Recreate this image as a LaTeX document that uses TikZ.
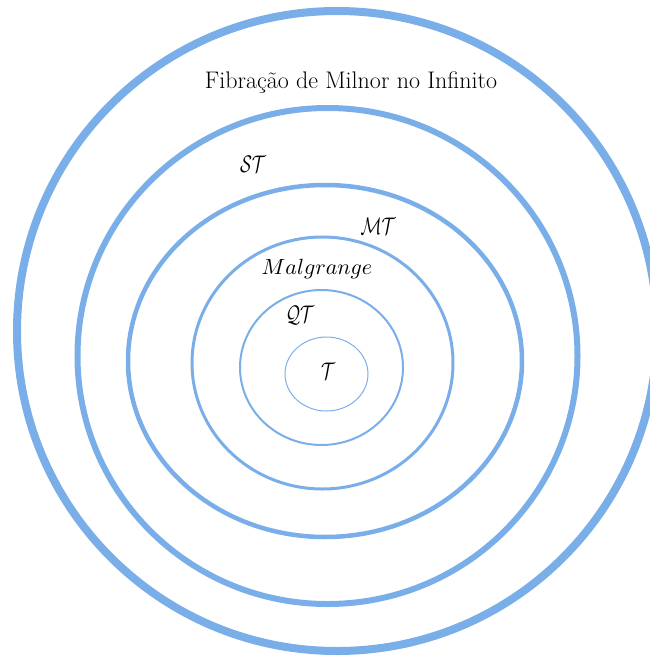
\documentclass[tikz,border=0pt]{standalone}
\usepackage{amsmath}
\usepackage{graphicx}
\definecolor{ringblue}{RGB}{122,174,232}
\tikzset{ring/.style={draw=ringblue}, lbl/.style={inner sep=0pt}}
\newcommand{\calbox}[1]{\scalebox{1.75}[2.4]{$\mathcal{#1}$}}
\begin{document}
\begin{tikzpicture}[x=1pt,y=-1pt]
\useasboundingbox (0,0) rectangle (650,657);
\draw[ring,line width=8] (337,331) ellipse [x radius=320, y radius=320];
\draw[ring,line width=6] (327.5,356) ellipse [x radius=250, y radius=248];
\draw[ring,line width=4.5] (325,361) ellipse [x radius=197, y radius=176];
\draw[ring,line width=3] (322.5,363) ellipse [x radius=130.5, y radius=126];
\draw[ring,line width=2] (321.5,367.5) ellipse [x radius=81.5, y radius=77.5];
\draw[ring,line width=1] (326.5,374) ellipse [x radius=41.5, y radius=37];
\node[lbl,font=\fontsize{24}{28}\selectfont] (fib) at (351,82) {Fibração de Milnor no Infinito};
\node[lbl] (st) at (253,164) {\calbox{ST}};
\node[lbl] (mt) at (378,226) {\calbox{MT}};
\node[lbl] (mal) at (317,269) {\scalebox{2.2}{$Malgrange$}};
\node[lbl] (qt) at (300,315) {\calbox{QT}};
\node[lbl] (t) at (328,371) {\calbox{T}};
\end{tikzpicture}
\end{document}
